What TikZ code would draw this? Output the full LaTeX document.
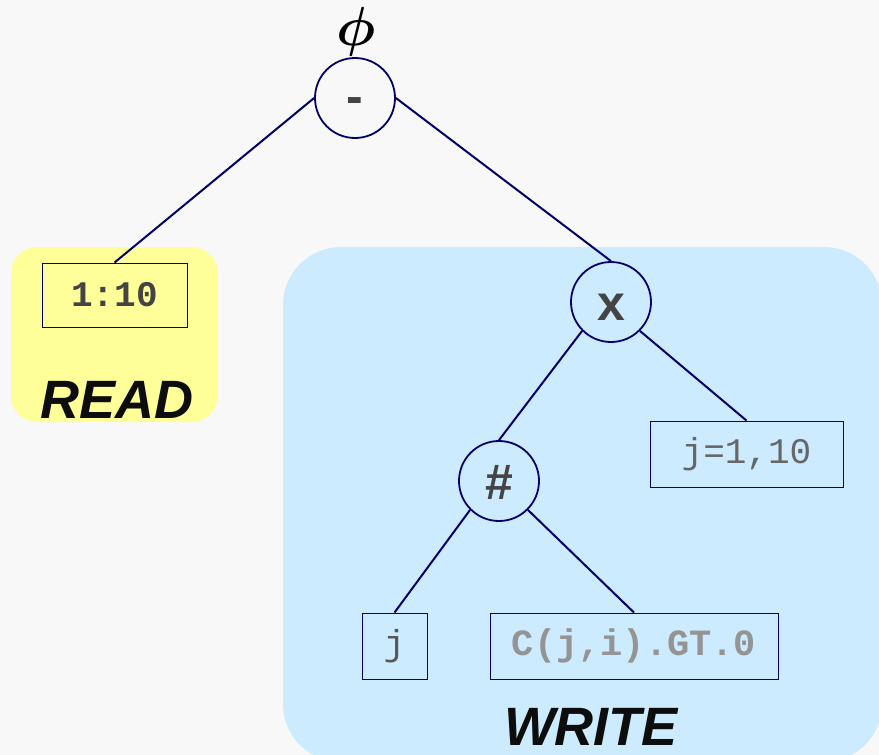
\documentclass[tikz,border=0pt]{standalone}
\usepackage{bm}
\usepackage{fontspec}
\setmainfont{Liberation Sans}
\newfontfamily\monofam{Liberation Mono}
\definecolor{bgray}{HTML}{F8F8F8}
\definecolor{readbg}{HTML}{FFFF99}
\definecolor{writebg}{HTML}{CCEBFF}
\definecolor{edge}{HTML}{000066}
\definecolor{ink}{HTML}{444444}
\newcommand{\opsym}[2]{\raisebox{#1}[0pt][0pt]{#2}}
\tikzset{
  opnode/.style={circle, draw=edge, line width=1.8pt, minimum size=80pt, inner sep=0pt,
    text=ink, font=\fontsize{50}{50}\selectfont\bfseries},
  leaf/.style={rectangle, draw=edge, line width=0.9pt, inner sep=0pt},
  monoreg/.style={font=\monofam\fontsize{36}{36}\selectfont},
  monobold/.style={font=\monofam\fontsize{#1}{#1}\selectfont\bfseries},
  link/.style={draw=edge, line width=2pt},
  phase/.style={font=\fontsize{54}{54}\selectfont\bfseries\itshape, text=black!95,
    inner sep=0pt, anchor=base}
}
\begin{document}
\begin{tikzpicture}[x=1pt,y=-1pt]
  \useasboundingbox (0,0) rectangle (879,755);
  \fill[bgray] (0,0) rectangle (879,755);
  % phase regions
  \fill[readbg, rounded corners=26pt] (11,247) rectangle (218,422);
  \begin{scope}
    \clip (0,0) rectangle (879,755);
    \fill[writebg, rounded corners=58pt] (283,247) rectangle (882,762);
  \end{scope}
  % operator nodes
  \node[opnode] (minus) at (355,98) {\opsym{-15pt}{-}};
  \node[opnode] (cross) at (611,302) {\opsym{-18pt}{x}};
  \node[opnode] (hash) at (499,481) {\opsym{-18pt}{\#}};
  \node[scale=5.5, inner sep=0pt] (phi) at (356,32) {$\bm{\phi}$};
  % leaves
  \node[leaf, monobold=36, minimum width=145pt, minimum height=64pt, text=ink]
        (range) at (114.5,295) {1:10};
  \node[leaf, monoreg, minimum width=193pt, minimum height=66pt, text=black!60]
        (loop) at (746.5,454) {j=1,10};
  \node[leaf, monoreg, minimum width=65pt, minimum height=66pt, text=black!66]
        (jvar) at (394.5,646) {j};
  \node[leaf, monobold=37, minimum width=288pt, minimum height=66pt, text=black!42]
        (cond) at (634,646) {C(j,i).GT.0};
  % phase labels
  \node[phase] (readlbl) at (117,418) {READ};
  \node[phase] (writelbl) at (591,745) {WRITE};
  % tree edges
  \draw[link] (minus.west) -- (range.north);
  \draw[link] (minus.east) -- (cross.north);
  \draw[link] (cross.south west) -- (hash.north);
  \draw[link] (cross.south east) -- (loop.north);
  \draw[link] (hash.south west) -- (jvar.north);
  \draw[link] (hash.south east) -- (cond.north);
\end{tikzpicture}
\end{document}
